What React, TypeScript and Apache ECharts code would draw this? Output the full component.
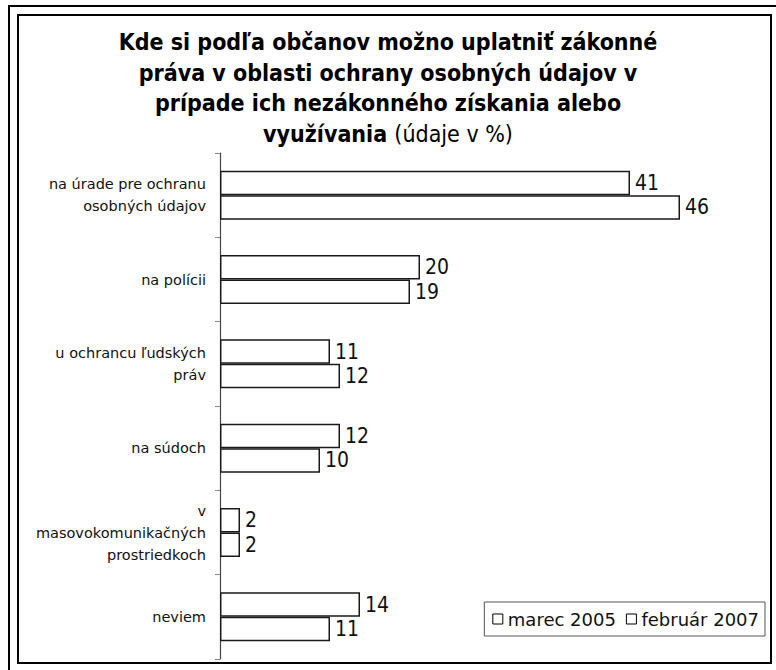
import React, { useEffect, useRef } from "react";
import * as echarts from "echarts";

const categories = [
  "na úrade pre ochranu\nosobných údajov",
  "na polícii",
  "u ochrancu ľudských\npráv",
  "na súdoch",
  "v\nmasovokomunikačných\nprostriedkoch",
  "neviem",
];
const seriesNames = ["marec 2005", "február 2007"];
const marec2005 = [41, 20, 11, 12, 2, 14];
const februar2007 = [46, 19, 12, 10, 2, 11];

const titleText =
  "Kde si podľa občanov možno uplatniť zákonné\npráva v oblasti ochrany osobných údajov v\nprípade ich nezákonného získania alebo\n{b|využívania} {n|(údaje v %)}";

export default function App() {
  const ref = useRef<HTMLDivElement>(null);
  useEffect(() => {
    if (!ref.current) return;
    const chart = echarts.init(ref.current, undefined, { renderer: "svg" });
    const titleFont = "'DejaVu Sans Condensed', 'DejaVu Sans', sans-serif";
    const barStyle = { color: "#ffffff", borderColor: "#1a1a1a", borderWidth: 1.5 };
    const label = {
      show: true,
      position: "right" as const,
      distance: 5,
      fontSize: 21,
      color: "#111",
      fontFamily: titleFont,
    };
    chart.setOption({
      animation: false,
      backgroundColor: "#ffffff",
      title: {
        text: titleText,
        left: "center",
        top: 27,
        padding: 0,
        textStyle: {
          fontFamily: titleFont,
          fontWeight: "bold",
          fontSize: 23,
          lineHeight: 30.5,
          color: "#000",
          rich: {
            b: { fontFamily: titleFont, fontWeight: "bold", fontSize: 23, lineHeight: 30.5, color: "#000" },
            n: { fontFamily: titleFont, fontWeight: "normal", fontSize: 23, lineHeight: 30.5, color: "#000" },
          },
        },
      },
      legend: {
        data: seriesNames,
        right: 11,
        top: 602,
        orient: "horizontal",
        padding: [8, 6, 8, 8],
        borderColor: "#555",
        borderWidth: 1,
        itemWidth: 10,
        itemHeight: 10,
        itemGap: 10,
        icon: "rect",
        itemStyle: { color: "#fff", borderColor: "#000", borderWidth: 1 },
        textStyle: { fontFamily: "'DejaVu Sans', sans-serif", fontSize: 18, color: "#111" },
      },
      grid: { left: 220, top: 153, width: 500, height: 506, containLabel: false },
      xAxis: {
        type: "value",
        min: 0,
        max: 50,
        show: false,
      },
      yAxis: {
        type: "category",
        data: categories,
        inverse: true,
        axisLine: { show: true, lineStyle: { color: "#444", width: 1.2 } },
        axisTick: { show: true, length: 5, lineStyle: { color: "#888", width: 1 } },
        axisLabel: {
          margin: 14,
          fontFamily: "'DejaVu Sans', sans-serif",
          fontSize: 14.5,
          lineHeight: 22,
          color: "#111",
          align: "right",
        },
        splitLine: { show: false },
      },
      series: [
        {
          name: seriesNames[0],
          type: "bar",
          data: marec2005,
          barWidth: 24.5,
          barGap: "0%",
          itemStyle: barStyle,
          label,
        },
        {
          name: seriesNames[1],
          type: "bar",
          data: februar2007,
          barWidth: 24.5,
          barGap: "0%",
          itemStyle: barStyle,
          label,
        },
      ],
      graphic: [
        {
          type: "polyline",
          silent: true,
          shape: { points: [[9, 670], [9, 6], [776, 6]] },
          style: { stroke: "#000", lineWidth: 2, fill: null },
        },
        {
          type: "rect",
          silent: true,
          shape: { x: 18, y: 15, width: 753, height: 648 },
          style: { stroke: "#000", lineWidth: 2, fill: null },
        },
      ],
    });
    return () => chart.dispose();
  }, []);
  return (
    <div
      ref={ref}
      style={{ position: "fixed", left: 0, top: 0, width: 776, height: 670 }}
    />
  );
}
